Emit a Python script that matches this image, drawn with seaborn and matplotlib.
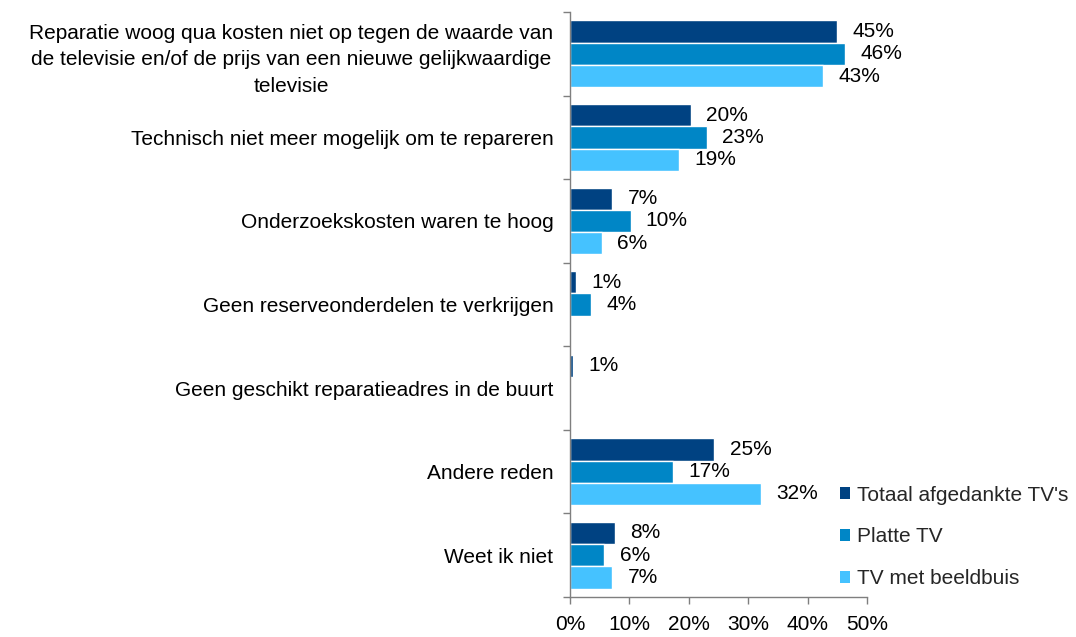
import matplotlib
matplotlib.use('Agg')
import matplotlib.pyplot as plt
import seaborn as sns
import pandas as pd
from matplotlib.ticker import FixedLocator
from matplotlib.patches import Patch

# ─── data ────────────────────────────────────────────────────────────────
redenen = [
    "Reparatie woog qua kosten niet op tegen de waarde van\nde televisie en/of de prijs van een nieuwe gelijkwaardige\ntelevisie",
    "Technisch niet meer mogelijk om te repareren",
    "Onderzoekskosten waren te hoog",
    "Geen reserveonderdelen te verkrijgen",
    "Geen geschikt reparatieadres in de buurt",
    "Andere reden",
    "Weet ik niet",
]
reeksen = ["Totaal afgedankte TV's", "Platte TV", "TV met beeldbuis"]

totaal = [45.0, 20.3, 7.1, 1.0, 0.45, 24.3, 7.5]
platte = [46.3, 23.0, 10.2, 3.5, 0.0, 17.3, 5.8]
beeldbuis = [42.6, 18.3, 5.4, 0.0, 0.0, 32.2, 7.1]

labels_totaal = ["45%", "20%", "7%", "1%", "1%", "25%", "8%"]
labels_platte = ["46%", "23%", "10%", "4%", "", "17%", "6%"]
labels_beeldbuis = ["43%", "19%", "6%", "", "", "32%", "7%"]

kleuren = ["#004282", "#0086C6", "#45C2FF"]

df = pd.DataFrame({
    'reden': redenen * 3,
    'reeks': [r for r in reeksen for _ in redenen],
    'pct': totaal + platte + beeldbuis,
})

# ─── plot ────────────────────────────────────────────────────────────────
sns.set_style('white')
plt.rcParams['font.family'] = ['Liberation Sans', 'DejaVu Sans']
plt.rcParams['font.size'] = 15
FS = 15

fig = plt.figure(figsize=(10.76, 6.37), dpi=100)
ax = fig.add_axes([570 / 1076, 1 - 597 / 637, 297 / 1076, 585 / 637])

sns.barplot(data=df, y='reden', x='pct', hue='reeks', order=redenen,
            hue_order=reeksen, palette=kleuren, orient='h', width=0.8,
            edgecolor='white', linewidth=1, saturation=1, ax=ax, legend=False)

for cont, labs in zip(ax.containers, [labels_totaal, labels_platte, labels_beeldbuis]):
    ax.bar_label(cont, labels=labs, padding=11, fontsize=FS, color='black')

ax.set_xlim(0, 50)
ax.set_ylim(len(redenen) - 0.5, -0.5)
ax.set_xticks([0, 10, 20, 30, 40, 50])
ax.set_xticklabels([f"{v}%" for v in range(0, 60, 10)], color='black', fontsize=FS)
ax.set_yticks(range(len(redenen)))
ax.set_yticklabels(redenen, color='black', fontsize=FS,
                   multialignment='center', linespacing=1.5)
ax.set_xlabel('')
ax.set_ylabel('')

ax.tick_params(axis='y', which='major', left=False, length=0, pad=12)
ax.yaxis.set_minor_locator(FixedLocator([i - 0.5 for i in range(len(redenen) + 1)]))
ax.tick_params(axis='y', which='minor', left=True, length=5, width=1,
               color='#7f7f7f', direction='out')
ax.tick_params(axis='x', which='major', bottom=True, length=5, width=1,
               color='#7f7f7f', direction='out', pad=8)

sns.despine(ax=ax, top=True, right=True)
for s in ['left', 'bottom']:
    ax.spines[s].set_color('#7f7f7f')
    ax.spines[s].set_linewidth(1)

handles = [Patch(facecolor=c, edgecolor='none') for c in kleuren]
fig.legend(handles, reeksen, loc='center left',
           bbox_to_anchor=(840 / 1076, 1 - 537 / 637), frameon=False,
           handlelength=0.5, handleheight=0.5, handletextpad=0.3,
           labelspacing=1.1, borderpad=0, borderaxespad=0, fontsize=FS)

fig.savefig('out.png', dpi=100)
